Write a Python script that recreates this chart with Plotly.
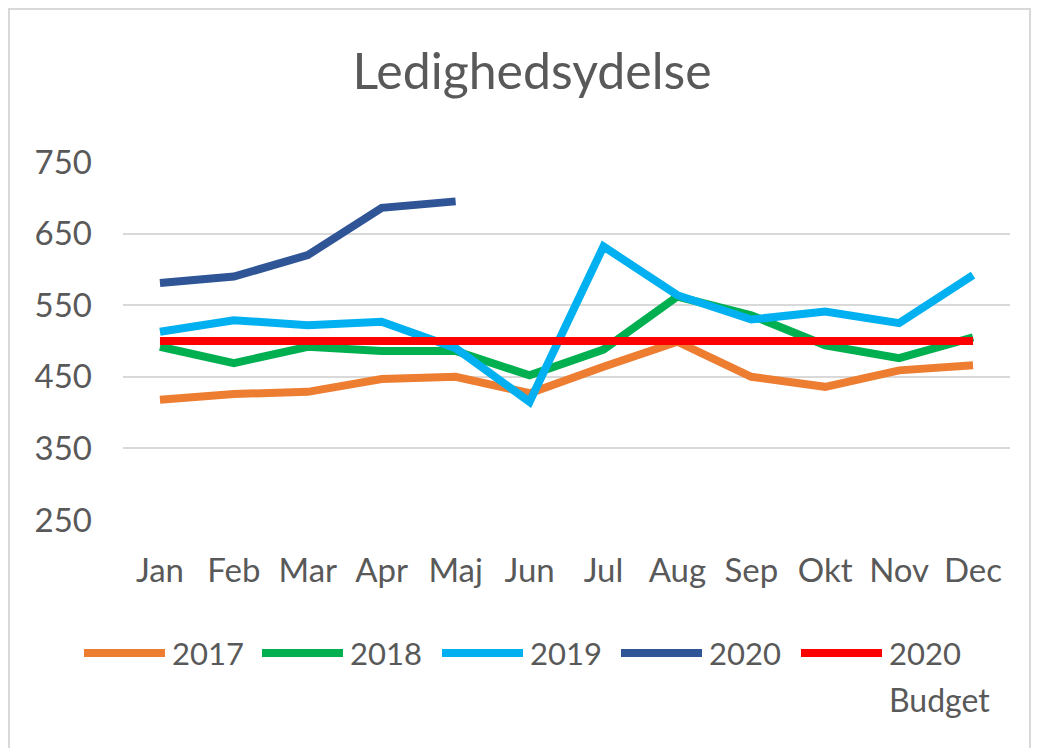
import plotly.graph_objects as go

months = ["Jan", "Feb", "Mar", "Apr", "Maj", "Jun", "Jul", "Aug", "Sep", "Okt", "Nov", "Dec"]
v2017 = [418, 426, 429, 447, 450, 427, 464, 499, 450, 436, 459, 466]
v2018 = [492, 469, 492, 486, 486, 452, 488, 562, 536, 494, 476, 505]
v2019 = [513, 529, 522, 527, 490, 415, 632, 564, 530, 541, 525, 592]
v2020 = [581, 590, 620, 686, 695]
budget2020 = [500] * 12

series_names = ["2017", "2018", "2019", "2020", "2020 Budget"]
series_values = [v2017, v2018, v2019, v2020, budget2020]
series_colors = ["#ED7D31", "#00B050", "#00B0F0", "#2F5597", "#FF0000"]

FONT = "Lato"
GREY = "#595959"

# the page body adds an 8px margin; compensate so positions match the window
OFF = 8
W, H = 1039 - 2 * OFF, 756 - 2 * OFF
L, R, T, B = 123 - OFF, 1010 - OFF, 162 - OFF, 520 - OFF

def px_x(px):
    return (px - OFF - L) / (R - L)

def px_y(py):
    return (B - (py - OFF)) / (B - T)

fig = go.Figure()
for name, vals, color in zip(series_names, series_values, series_colors):
    fig.add_trace(go.Scatter(
        x=months[:len(vals)], y=vals, name=name, mode="lines",
        line=dict(color=color, width=8), showlegend=False,
    ))

# manual legend (symbol line + label), laid out like the original
legend_sym_x0 = [82, 260, 440, 619, 799]
legend_y = 653
shapes = []
annotations = []
for i, (name, color) in enumerate(zip(series_names, series_colors)):
    x0 = legend_sym_x0[i]
    shapes.append(dict(
        type="line", xref="paper", yref="paper",
        x0=px_x(x0 + 2), x1=px_x(x0 + 83), y0=px_y(legend_y), y1=px_y(legend_y),
        line=dict(color=color, width=8),
    ))
    parts = name.split(" ")
    for j, part in enumerate(parts):
        annotations.append(dict(
            text=part, xref="paper", yref="paper",
            x=px_x(x0 + 88), y=px_y(legend_y + 46 * j),
            xanchor="left", yanchor="middle", showarrow=False,
            font=dict(size=31 if j == 0 else 32, color=GREY, family=FONT),
        ))

shapes.append(dict(
    type="rect", xref="paper", yref="paper",
    x0=px_x(9), x1=px_x(1030), y0=px_y(754), y1=px_y(9),
    line=dict(color="#D9D9D9", width=2), layer="below",
))

fig.update_layout(
    width=W, height=H,
    margin=dict(l=L, r=W - R, t=T, b=H - B),
    plot_bgcolor="white", paper_bgcolor="white",
    font=dict(family=FONT, color=GREY),
    showlegend=False,
    title=dict(text="Ledighedsydelse", x=px_x(532), xref="paper", xanchor="center",
               y=1 - (71 - OFF) / H, yanchor="middle",
               font=dict(size=50, color=GREY, family=FONT)),
    xaxis=dict(
        categoryorder="array", categoryarray=months,
        range=[-0.5, 11.5], showgrid=False, zeroline=False, showline=False,
        tickfont=dict(size=33, color=GREY), ticks="", ticklabelstandoff=28,
    ),
    yaxis=dict(
        range=[250, 750], tickvals=[250, 350, 450, 550, 650, 750],
        showgrid=True, gridcolor="#D9D9D9", gridwidth=2,
        zeroline=False, showline=False, ticks="",
        tickfont=dict(size=33, color=GREY), ticklabelstandoff=30,
    ),
    shapes=shapes,
    annotations=annotations,
)

fig.write_html("out.html")
